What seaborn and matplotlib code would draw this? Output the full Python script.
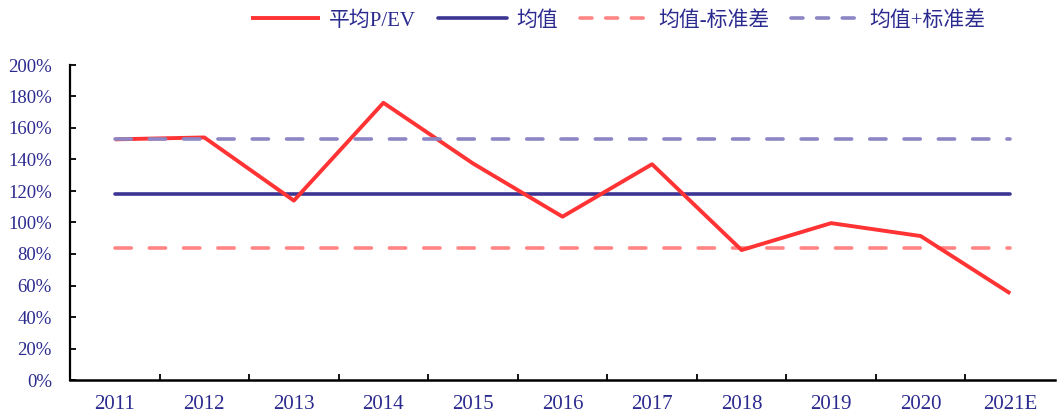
import matplotlib
matplotlib.use("Agg")
import matplotlib.pyplot as plt
import matplotlib.ticker as mticker
import seaborn as sns
import pandas as pd

# Data (values in %)
years = ["2011", "2012", "2013", "2014", "2015", "2016", "2017", "2018", "2019", "2020", "2021E"]
pe_ev = [152.8, 154.0, 113.9, 176.0, 137.5, 103.7, 137.0, 82.5, 99.6, 91.4, 55.0]
mean_val = 118.4
mean_minus_std = 83.8
mean_plus_std = 152.8

labels = ["平均P/EV", "均值", "均值-标准差", "均值+标准差"]
colors = ["#FF3333", "#3D3593", "#FF8585", "#8C86C4"]

df = pd.DataFrame({
    "year": years,
    "pe_ev": pe_ev,
    "mean": [mean_val] * len(years),
    "low": [mean_minus_std] * len(years),
    "high": [mean_plus_std] * len(years),
})

sns.set_style("white")
plt.rcParams["font.family"] = ["Liberation Serif", "Noto Sans CJK SC", "DejaVu Sans"]

fig = plt.figure(figsize=(10.57, 4.15), dpi=100, facecolor="w")
ax = fig.add_axes([70 / 1057, 35 / 415, 985 / 1057, 315 / 415])

tick_color = "#2B2A8F"
dash = (0, (4.5, 5))

# Order of drawing: reference lines first, main line on top of them
sns.lineplot(data=df, x="year", y="low", ax=ax, color=colors[2], lw=2.6,
             linestyle=dash, dash_capstyle="round", label=labels[2], sort=False)
sns.lineplot(data=df, x="year", y="high", ax=ax, color=colors[3], lw=2.6,
             linestyle=dash, dash_capstyle="round", label=labels[3], sort=False)
sns.lineplot(data=df, x="year", y="mean", ax=ax, color=colors[1], lw=2.6,
             solid_capstyle="round", label=labels[1], sort=False)
sns.lineplot(data=df, x="year", y="pe_ev", ax=ax, color=colors[0], lw=2.8,
             solid_capstyle="butt", label=labels[0], sort=False)

# put the dashed upper line above the red line like in the reference
ax.lines[1].set_zorder(5)

ax.set_xlim(-0.5, len(years) - 0.5)
ax.set_ylim(0, 200)
ax.set_xlabel("")
ax.set_ylabel("")

ax.yaxis.set_major_locator(mticker.MultipleLocator(20))
ax.yaxis.set_major_formatter(mticker.FuncFormatter(lambda v, p: "%d%%" % v))

ax.set_xticks(range(len(years)))
ax.set_xticklabels(years)
ax.xaxis.set_minor_locator(mticker.FixedLocator([i + 0.5 for i in range(len(years) - 1)]))

ax.tick_params(axis="x", which="major", length=0, pad=11, labelsize=15, labelcolor=tick_color)
ax.tick_params(axis="x", which="minor", direction="in", length=4, width=1.3, color="black", bottom=True)
ax.tick_params(axis="y", which="major", direction="in", length=4, width=1.3, color="black",
               pad=13, labelsize=13.5, labelcolor=tick_color, left=True)

for side in ["top", "right"]:
    ax.spines[side].set_visible(False)
ax.spines["left"].set_linewidth(1.6)
ax.spines["left"].set_color("black")
ax.spines["bottom"].set_linewidth(1.8)
ax.spines["bottom"].set_color("black")
ax.grid(False)

# Legend across the top, in the reference order
ax.get_legend().remove()
handle_map = {l.get_label(): l for l in ax.lines}
handles = [handle_map[l] for l in labels]
leg = fig.legend(handles, labels, loc="center", bbox_to_anchor=(0.585, 0.950), ncol=4,
                 frameon=False, fontsize=15, handlelength=3.3, handletextpad=0.45,
                 columnspacing=1.05)
for t in leg.get_texts():
    t.set_color(tick_color)
# three even dashes in each dashed legend sample
for ln in leg.get_lines()[2:]:
    ln.set_linestyle((0, (3.3, 3.8)))
    ln.set_dash_capstyle("round")

fig.savefig("out.png", dpi=100, facecolor="w")
plt.close()
